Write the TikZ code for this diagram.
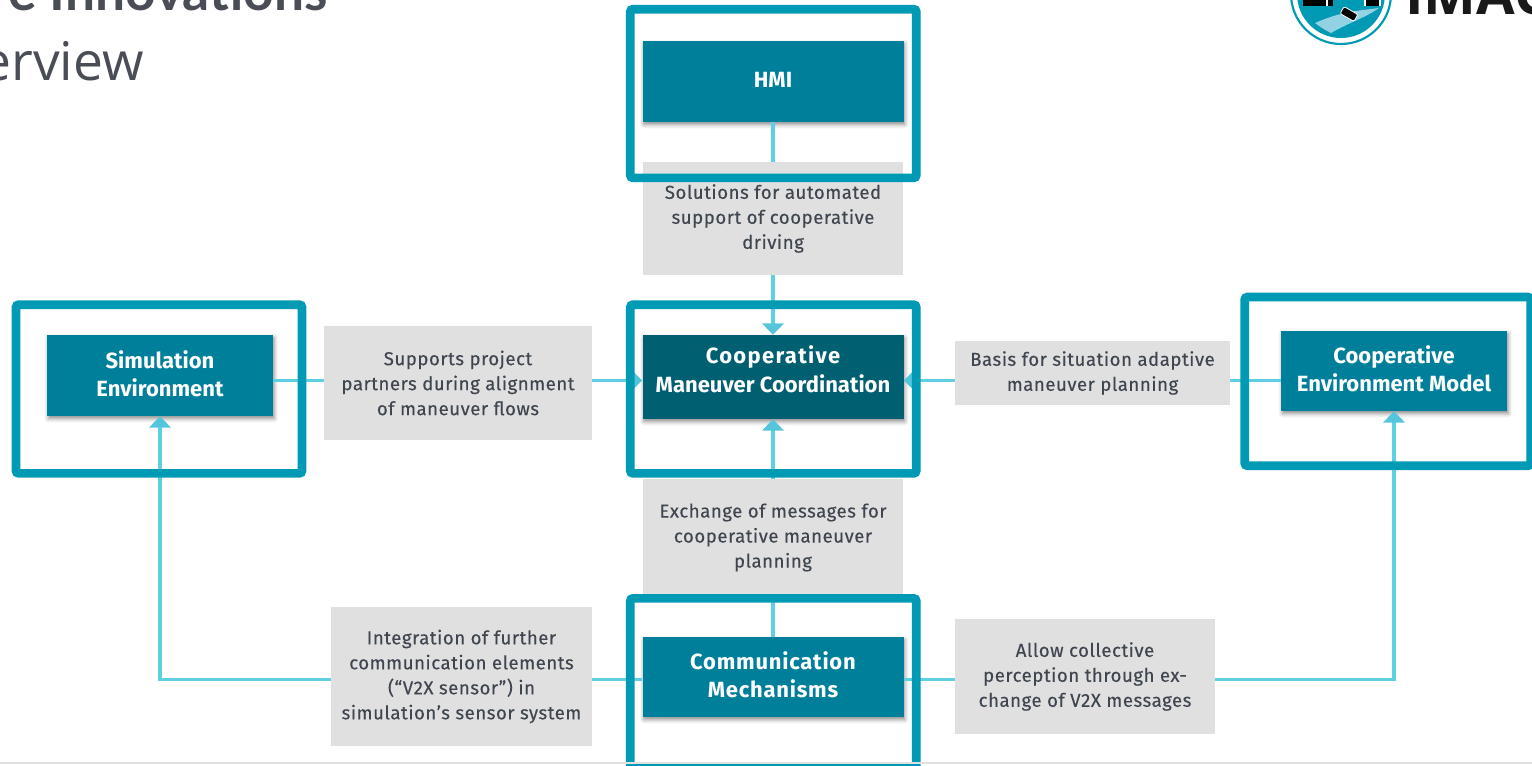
\documentclass[tikz,border=0pt]{standalone}
\usepackage{fontspec}
\setmainfont{Fira Sans}
\newfontfamily\titlefont{Open Sans}
\newfontfamily\headfont{Lato}
\definecolor{imBlue}{HTML}{007F9A}
\definecolor{imDark}{HTML}{005F70}
\definecolor{imFrame}{HTML}{009AB5}
\definecolor{imLink}{HTML}{5FD0E4}
\definecolor{imTip}{HTML}{55C5DB}
\definecolor{imGray}{HTML}{E0E0E0}
\definecolor{imText}{HTML}{3F4650}
\definecolor{imTitle}{HTML}{4A4D55}
\definecolor{imRoad}{HTML}{93D2E4}
\usetikzlibrary{arrows.meta,shadows.blur}
\tikzset{
  module/.style={fill=imBlue, text=white, font=\fontsize{16.5}{21}\selectfont\bfseries, align=center, inner sep=0pt, text depth=3pt,
    blur shadow={shadow xshift=1pt, shadow yshift=-2pt, shadow blur radius=3pt, shadow opacity=45}},
  note/.style={fill=imGray, text=imText, font=\fontsize{14}{18.75}\selectfont\addfontfeature{LetterSpace=2.7,FakeBold=0.2}, align=center, inner sep=0pt},
  focus/.style={draw=imFrame, line width=6.5pt, rounded corners=2pt, inner sep=0pt, minimum width=214.5pt, minimum height=126.5pt},
  link/.style={imLink, line width=2.5pt},
  linkto/.style={link, -{Triangle[width=16pt,length=8.5pt,color=imTip]}}
}

\begin{document}
\begin{tikzpicture}[x=0.75pt,y=-0.75pt]
  \useasboundingbox (0,0) rectangle (1532,765);
  \clip (0,0) rectangle (1532,765);

  % Slide title
  \node[font=\fontsize{40}{40}\headfont\bfseries, text=imTitle, anchor=base east, inner sep=0pt] (titleTop) at (328,10) {e Innovations};
  \node[font=\fontsize{40}{40}\titlefont, text=imTitle, anchor=base east, inner sep=0pt] (titleSub) at (144,80) {erview};

  % Logo
  \draw[imFrame, line width=1.6pt, fill=white] (1341,-6) circle (50);
  \fill[imFrame] (1341,-6) circle (44);
  \fill[imRoad] (1315,23) .. controls (1340,12) and (1355,11) .. (1379,8) .. controls (1365,18) and (1350,22) .. (1331,33) .. controls (1325,30) and (1320,27) .. (1315,23);
  \fill[black] (1303,-5) rectangle (1333,6);
  \draw[white, line width=0.8pt] (1327,-5) -- (1327,6);
  \fill[black] (1365,-5) rectangle (1380,6);
  \draw[white, line width=0.8pt] (1365,-5) -- (1365,6) (1380,-5) -- (1380,6);
  \fill[black, draw=white, line width=0.6pt, rounded corners=1pt, rotate around={-30:(1349,14)}] (1341,10) rectangle (1357,18);
  \node[font=\fontsize{42}{42}\titlefont\bfseries, text=black!90, anchor=base west, inner sep=0pt] (logoText) at (1405,14) {IMAG};

  % Blue modules
  \node[module, minimum width=195.75pt, minimum height=60.75pt] (hmi) at (773,81.5) {HMI};
  \node[module, fill=imDark, minimum width=195.75pt, minimum height=63pt, text depth=12pt] (cmc) at (773,377) {{\addfontfeature{LetterSpace=6}Cooperative}\\[0.8pt]Maneuver Coordination};
  \node[module, minimum width=169.5pt, minimum height=60.75pt] (sim) at (160,375.5) {Simulation\\Environment};
  \node[module, minimum width=169.5pt, minimum height=60pt] (env) at (1394,371) {Cooperative\\Environment Model};
  \node[module, minimum width=195.75pt, minimum height=60pt] (comm) at (773,677) {{\addfontfeature{LetterSpace=3.5}Communication}\\{\addfontfeature{LetterSpace=3.5}Mechanisms}};

  % Connectors, the notes cover them
  \draw[linkto] (hmi) -- (cmc);
  \draw[linkto] (comm) -- (cmc);
  \draw[linkto] ([yshift=-2.6pt]sim.east |- cmc.west) -- ([yshift=-2.6pt]cmc.west);
  \draw[linkto] ([yshift=-2.6pt]env.west |- cmc.west) -- ([yshift=-2.6pt]cmc.east);
  \draw[linkto] ([yshift=-2pt]comm.west) -| (sim.south);
  \draw[linkto] ([yshift=-2pt]comm.east) -| (env.south);

  % Grey notes
  \node[note, minimum width=195pt, minimum height=84.75pt] (noteHmi) at (773,218.5) {Solutions for automated\\support of cooperative\\driving};
  \node[note, minimum width=201pt, minimum height=85.5pt] (noteSim) at (458,383) {Supports project\\partners during alignment\\of maneuver flows};
  \node[note, minimum width=206.25pt, minimum height=48pt] (noteEnv) at (1092.5,373) {Basis for situation adaptive\\maneuver planning};
  \node[note, minimum width=195pt, minimum height=87.75pt] (noteMsg) at (773,537.5) {Exchange of messages for\\cooperative maneuver\\planning};
  \node[note, minimum width=195.75pt, minimum height=104.25pt] (noteInt) at (461.5,676.5) {Integration of further\\communication elements\\(“V2X sensor”) in\\simulation’s sensor system};
  \node[note, minimum width=195pt, minimum height=86.25pt] (noteAll) at (1085,676.5) {Allow collective\\perception through ex-\\change of V2X messages};

  % Highlight frames
  \node[focus] (frameHmi) at (773.3,93.5) {};
  \node[focus] (frameCmc) at (773.3,389) {};
  \node[focus] (frameSim) at (159,389) {};
  \node[focus] (frameEnv) at (1387.7,381.4) {};
  \node[focus] (frameComm) at (773.3,682.7) {};

  % Footer rule
  \draw[imGray, line width=1.5pt] (0,763) -- (1532,763);
\end{tikzpicture}
\end{document}
